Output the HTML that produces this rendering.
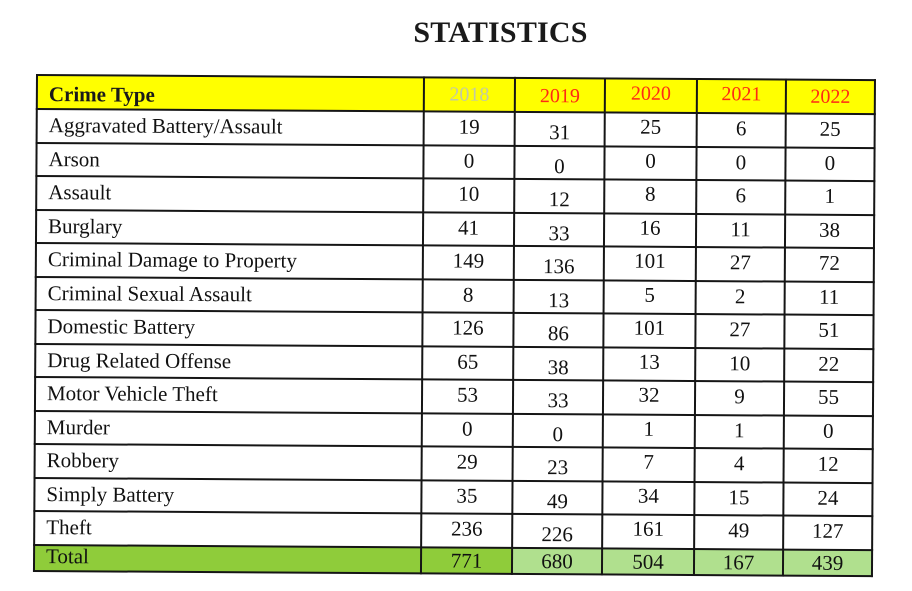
<!DOCTYPE html>
<html>
<head>
<meta charset="utf-8">
<style>
  html,body{margin:0;padding:0;background:#fff;}
  body{width:912px;height:591px;position:relative;overflow:hidden;font-family:"Liberation Serif","Times New Roman",serif;color:#111;}
  .title{position:absolute;left:300px;width:401px;top:18px;line-height:30px;font-size:30px;font-weight:bold;text-align:center;color:#1a1a1a;letter-spacing:0.2px;}
  .tbl{position:absolute;left:37px;top:75px;width:838px;height:496px;transform:rotate(0.35deg);transform-origin:0 0;}
  .bg{position:absolute;}
  .h{position:absolute;left:-1px;width:840px;height:2px;background:#151515;}
  .v{position:absolute;top:-1px;height:498px;width:2px;background:#151515;}
  .r{position:absolute;left:0;width:838px;height:33.5px;line-height:33.5px;font-size:21px;white-space:nowrap;}
  .r span{position:absolute;height:100%;text-align:center;}
  .c0{left:12px;text-align:left !important;}
  .c1{left:387px;width:91px;top:-1px;}
  .c2{left:478px;width:90px;top:4px;}
  .c3{left:568px;width:92px;top:-2px;}
  .c4{left:660px;width:89px;top:-1px;}
  .c5{left:749px;width:89px;top:-1px;}
  .hd{height:34px;line-height:34px;top:0;}
  .hd span{font-size:20px;color:#ff2a14;}
  .hd .c0{font-weight:bold;font-size:21px;color:#1a1a1a;top:2px;}
  .hd .c1{color:#c2c9a4;top:0;}
  .hd .c2{top:1px;}
  .hd .c3{top:-2px;}
  .hd .c4{top:-2px;}
  .hd .c5{top:0;}
  .tot{height:26px;line-height:26px;top:470px;}
  .tot span{top:0;}
  .tot .c0{top:-2px;}
</style>
</head>
<body>
<div class="title">STATISTICS</div>
<div class="tbl">
  <div class="bg" style="left:0;top:0;width:838px;height:34px;background:#ffff00;"></div>
  <div class="bg" style="left:0;top:470px;width:478px;height:26px;background:#8fcc3a;"></div>
  <div class="bg" style="left:478px;top:470px;width:360px;height:26px;background:#b0e08e;"></div>

  <div class="h" style="top:-1px"></div>
  <div class="h" style="top:33px"></div>
  <div class="h" style="top:66.5px"></div>
  <div class="h" style="top:100px"></div>
  <div class="h" style="top:133.5px"></div>
  <div class="h" style="top:167px"></div>
  <div class="h" style="top:200.5px"></div>
  <div class="h" style="top:234px"></div>
  <div class="h" style="top:267.5px"></div>
  <div class="h" style="top:301px"></div>
  <div class="h" style="top:334.5px"></div>
  <div class="h" style="top:368px"></div>
  <div class="h" style="top:401.5px"></div>
  <div class="h" style="top:435px"></div>
  <div class="h" style="top:469px"></div>
  <div class="h" style="top:495px"></div>

  <div class="v" style="left:-1px"></div>
  <div class="v" style="left:386px"></div>
  <div class="v" style="left:477px"></div>
  <div class="v" style="left:567px"></div>
  <div class="v" style="left:659px"></div>
  <div class="v" style="left:748px"></div>
  <div class="v" style="left:837px"></div>

  <div class="r hd"><span class="c0">Crime Type</span><span class="c1">2018</span><span class="c2">2019</span><span class="c3">2020</span><span class="c4">2021</span><span class="c5">2022</span></div>

  <div class="r" style="top:34px"><span class="c0">Aggravated Battery/Assault</span><span class="c1">19</span><span class="c2">31</span><span class="c3">25</span><span class="c4">6</span><span class="c5">25</span></div>
  <div class="r" style="top:67.5px"><span class="c0">Arson</span><span class="c1">0</span><span class="c2">0</span><span class="c3">0</span><span class="c4">0</span><span class="c5">0</span></div>
  <div class="r" style="top:101px"><span class="c0">Assault</span><span class="c1">10</span><span class="c2">12</span><span class="c3">8</span><span class="c4">6</span><span class="c5">1</span></div>
  <div class="r" style="top:134.5px"><span class="c0">Burglary</span><span class="c1">41</span><span class="c2">33</span><span class="c3">16</span><span class="c4">11</span><span class="c5">38</span></div>
  <div class="r" style="top:168px"><span class="c0">Criminal Damage to Property</span><span class="c1">149</span><span class="c2">136</span><span class="c3">101</span><span class="c4">27</span><span class="c5">72</span></div>
  <div class="r" style="top:201.5px"><span class="c0">Criminal Sexual Assault</span><span class="c1">8</span><span class="c2">13</span><span class="c3">5</span><span class="c4">2</span><span class="c5">11</span></div>
  <div class="r" style="top:235px"><span class="c0">Domestic Battery</span><span class="c1">126</span><span class="c2">86</span><span class="c3">101</span><span class="c4">27</span><span class="c5">51</span></div>
  <div class="r" style="top:268.5px"><span class="c0">Drug Related Offense</span><span class="c1">65</span><span class="c2">38</span><span class="c3">13</span><span class="c4">10</span><span class="c5">22</span></div>
  <div class="r" style="top:302px"><span class="c0">Motor Vehicle Theft</span><span class="c1">53</span><span class="c2">33</span><span class="c3">32</span><span class="c4">9</span><span class="c5">55</span></div>
  <div class="r" style="top:335.5px"><span class="c0">Murder</span><span class="c1">0</span><span class="c2">0</span><span class="c3">1</span><span class="c4">1</span><span class="c5">0</span></div>
  <div class="r" style="top:369px"><span class="c0">Robbery</span><span class="c1">29</span><span class="c2">23</span><span class="c3">7</span><span class="c4">4</span><span class="c5">12</span></div>
  <div class="r" style="top:402.5px"><span class="c0">Simply Battery</span><span class="c1">35</span><span class="c2">49</span><span class="c3">34</span><span class="c4">15</span><span class="c5">24</span></div>
  <div class="r" style="top:436px"><span class="c0">Theft</span><span class="c1">236</span><span class="c2">226</span><span class="c3">161</span><span class="c4">49</span><span class="c5">127</span></div>

  <div class="r tot"><span class="c0">Total</span><span class="c1">771</span><span class="c2">680</span><span class="c3">504</span><span class="c4">167</span><span class="c5">439</span></div>
</div>
</body>
</html>
